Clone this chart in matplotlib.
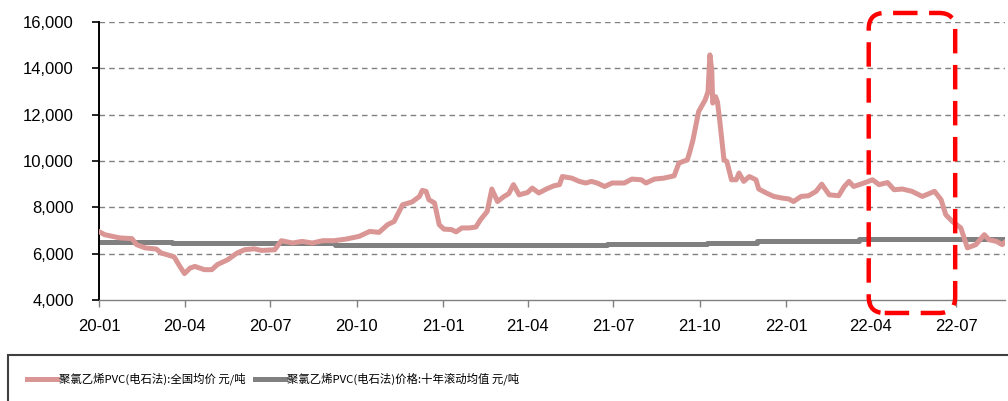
import matplotlib
matplotlib.use("Agg")
import matplotlib.pyplot as plt
import matplotlib.dates as mdates
from matplotlib.patches import FancyBboxPatch, Rectangle
from matplotlib.lines import Line2D
from matplotlib.transforms import IdentityTransform
import pandas as pd

# ---------------- data ----------------
red_dates = [
    '2020-01-01', '2020-01-07', '2020-01-15', '2020-01-23', '2020-02-05', '2020-02-10',
    '2020-02-19', '2020-03-02', '2020-03-07', '2020-03-13', '2020-03-21', '2020-03-27',
    '2020-04-01', '2020-04-07', '2020-04-12', '2020-04-22', '2020-04-30', '2020-05-06',
    '2020-05-17', '2020-05-27', '2020-06-04', '2020-06-14', '2020-06-22', '2020-07-06',
    '2020-07-13', '2020-07-25', '2020-08-04', '2020-08-15', '2020-08-26', '2020-09-07',
    '2020-09-20', '2020-10-04', '2020-10-15', '2020-10-25', '2020-11-03', '2020-11-10',
    '2020-11-19', '2020-11-29', '2020-12-07', '2020-12-10', '2020-12-14', '2020-12-17',
    '2020-12-23', '2020-12-28', '2021-01-02', '2021-01-10', '2021-01-15', '2021-01-21',
    '2021-01-29', '2021-02-05', '2021-02-10', '2021-02-17', '2021-02-22', '2021-02-28',
    '2021-03-07', '2021-03-12', '2021-03-17', '2021-03-23', '2021-04-01', '2021-04-06',
    '2021-04-13', '2021-04-21', '2021-04-29', '2021-05-05', '2021-05-08', '2021-05-18',
    '2021-05-26', '2021-06-02', '2021-06-08', '2021-06-14', '2021-06-22', '2021-06-30',
    '2021-07-13', '2021-07-21', '2021-07-31', '2021-08-05', '2021-08-14', '2021-08-24',
    '2021-09-04', '2021-09-09', '2021-09-18', '2021-09-21', '2021-09-24', '2021-09-30',
    '2021-10-07', '2021-10-10', '2021-10-12', '2021-10-14', '2021-10-15', '2021-10-18',
    '2021-10-20', '2021-10-22', '2021-10-27', '2021-10-30', '2021-11-04', '2021-11-09',
    '2021-11-12', '2021-11-17', '2021-11-23', '2021-11-30', '2021-12-03', '2021-12-11',
    '2021-12-19', '2021-12-28', '2022-01-04', '2022-01-09', '2022-01-17', '2022-01-25',
    '2022-02-02', '2022-02-08', '2022-02-16', '2022-02-26', '2022-03-04', '2022-03-09',
    '2022-03-14', '2022-03-20', '2022-03-25', '2022-04-03', '2022-04-10', '2022-04-19',
    '2022-04-26', '2022-05-05', '2022-05-15', '2022-05-26', '2022-06-08', '2022-06-15',
    '2022-06-20', '2022-06-27', '2022-07-06', '2022-07-13', '2022-07-22', '2022-07-31',
    '2022-08-05', '2022-08-13', '2022-08-19', '2022-08-23',
]
red_values = [
    6950, 6820, 6750, 6680, 6650, 6390,
    6250, 6200, 6030, 5960, 5860, 5450,
    5140, 5380, 5450, 5310, 5310, 5530,
    5740, 6030, 6170, 6210, 6140, 6170,
    6560, 6460, 6530, 6460, 6560, 6560,
    6630, 6750, 6960, 6920, 7250, 7390,
    8110, 8230, 8470, 8730, 8690, 8330,
    8190, 7250, 7060, 7040, 6940, 7110,
    7110, 7150, 7470, 7820, 8790, 8250,
    8470, 8590, 8980, 8540, 8640, 8830,
    8620, 8790, 8930, 8980, 9330, 9260,
    9120, 9050, 9120, 9050, 8900, 9050,
    9050, 9220, 9190, 9050, 9220, 9260,
    9360, 9910, 10050, 10450, 10910, 12130,
    12640, 12990, 14580, 13930, 12500, 12780,
    12560, 11920, 10050, 9980, 9190, 9190,
    9480, 9120, 9330, 9190, 8790, 8620,
    8470, 8400, 8360, 8250, 8470, 8500,
    8690, 9000, 8540, 8500, 8900, 9120,
    8900, 8980, 9050, 9190, 8980, 9070,
    8760, 8790, 8690, 8470, 8690, 8330,
    7680, 7390, 7110, 6250, 6390, 6820,
    6600, 6530, 6390, 6530,
]

gray_dates = ['2020-01-01', '2020-03-19', '2020-09-08', '2021-06-25',
              '2021-10-09', '2021-12-01', '2022-03-20', '2022-08-23']
gray_values = [6500, 6450, 6380, 6430, 6480, 6550, 6620, 6620]

series_labels = ['聚氯乙烯PVC(电石法):全国均价 元/吨',
                 '聚氯乙烯PVC(电石法)价格:十年滚动均值 元/吨']
y_ticks = [4000, 6000, 8000, 10000, 12000, 14000, 16000]
x_tick_dates = ['2020-01-01', '2020-04-01', '2020-07-01', '2020-10-01', '2021-01-01',
                '2021-04-01', '2021-07-01', '2021-10-01', '2022-01-01', '2022-04-01',
                '2022-07-01']
x_range = ['2020-01-01', '2022-08-22']
highlight_range = ['2022-03-30', '2022-06-30']
highlight_values = [3440, 16390]

# ---------------- style ----------------
RED = '#DA9694'
GRAY = '#808080'
plt.rcParams['font.family'] = ['Liberation Sans', 'Noto Sans CJK SC', 'DejaVu Sans']

W, H = 1008, 401
fig = plt.figure(figsize=(W / 100, H / 100), dpi=100)
ax = fig.add_axes([99 / W, 101 / H, (1005 - 99) / W, 278 / H])

rd = pd.to_datetime(red_dates)
gd = pd.to_datetime(gray_dates)
ax.plot(rd, red_values, color=RED, lw=3.6, solid_joinstyle='round', zorder=3)
ax.plot(gd, gray_values, color=GRAY, lw=3.6, drawstyle='steps-post', zorder=2)

ax.set_xlim(pd.to_datetime(x_range[0]), pd.to_datetime(x_range[1]))
ax.set_ylim(y_ticks[0], y_ticks[-1])
ax.set_yticks(y_ticks)
ax.set_yticklabels([f'{v:,}' for v in y_ticks])
ax.set_xticks(pd.to_datetime(x_tick_dates))
ax.xaxis.set_major_formatter(mdates.DateFormatter('%y-%m'))

for v in y_ticks[1:]:
    ax.axhline(v, color=GRAY, lw=1.0, ls=(0, (4, 3)), zorder=1)

for s in ['top', 'right']:
    ax.spines[s].set_visible(False)
ax.spines['left'].set_color('black')
ax.spines['left'].set_linewidth(1.4)
ax.spines['bottom'].set_color(GRAY)
ax.spines['bottom'].set_linewidth(1.0)

ax.tick_params(axis='y', direction='out', length=5, width=1.2, color='black',
               labelsize=12, pad=13)
ax.tick_params(axis='x', direction='out', length=5, width=1.0, color=GRAY,
               labelsize=12, pad=9)

# highlight dashed rounded rectangle
hx = mdates.date2num(pd.to_datetime(highlight_range))
p0 = ax.transData.transform((hx[0], highlight_values[0]))
p1 = ax.transData.transform((hx[1], highlight_values[1]))
box = FancyBboxPatch((p0[0], p0[1]), p1[0] - p0[0], p1[1] - p0[1],
                     boxstyle='round,pad=0,rounding_size=16',
                     transform=IdentityTransform(), fill=False,
                     edgecolor='#FF0000', lw=3.2, ls=(0, (5.5, 2.6)),
                     zorder=10, clip_on=False)
fig.add_artist(box)

# legend frame
fig.add_artist(Rectangle((8 / W, -0.2), 1.2, 46 / H + 0.2, transform=fig.transFigure,
                         fill=False, edgecolor='#404040', lw=1.5))

leg_font = ['Noto Sans CJK SC', 'DejaVu Sans']
for xpix, col, lab in [(27, RED, series_labels[0]), (255, GRAY, series_labels[1])]:
    h = Line2D([], [], color=col, lw=3.6)
    fig.legend([h], [lab], loc='center left', bbox_to_anchor=(xpix / W, 22 / H),
               frameon=False, borderpad=0, borderaxespad=0, handlelength=2.6,
               handletextpad=0.25, prop={'family': leg_font, 'size': 8.2})

fig.savefig('out.png', dpi=100)
